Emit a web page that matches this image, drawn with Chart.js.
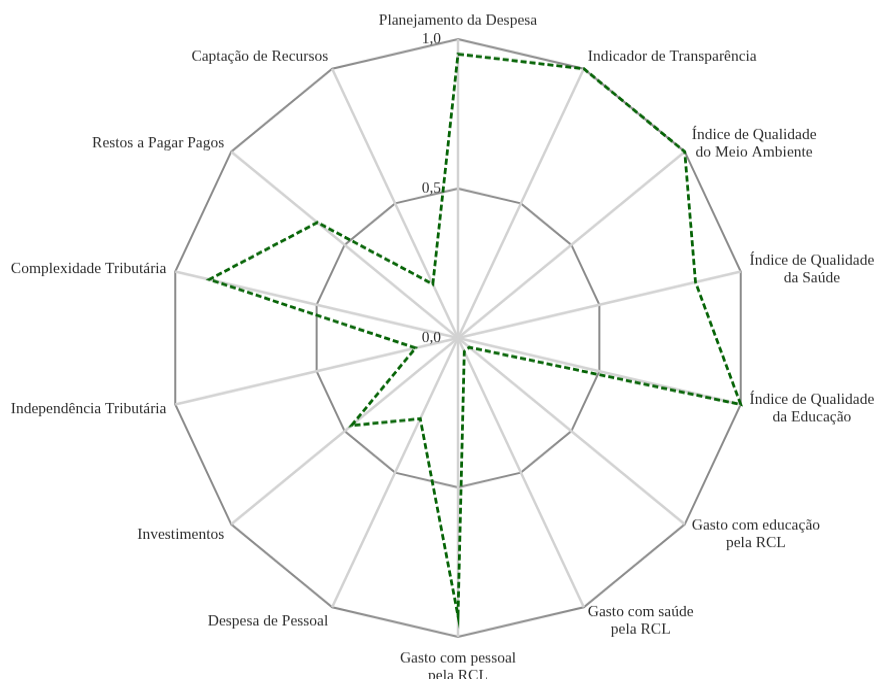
<!DOCTYPE html>
<html>
<head>
<meta charset="utf-8">
<script src="https://cdn.jsdelivr.net/npm/chart.js@4.4.0/dist/chart.umd.min.js"></script>
<style>
  html { overflow: hidden; }
  html, body { margin: 0; padding: 0; background: #fff; }
  body { height: 679px; }
  /* o gráfico original está levemente esticado na vertical */
  #wrap { width: 877px; height: 659px; transform: scaleY(1.0304); transform-origin: 0 0; }
</style>
</head>
<body>
<div id="wrap"><canvas id="radar" width="877" height="659"></canvas></div>
<script>
const categorias = [
  'Planejamento da Despesa',
  'Indicador de Transparência',
  ['Índice de Qualidade', 'do Meio Ambiente'],
  ['Índice de Qualidade', 'da Saúde'],
  ['Índice de Qualidade', 'da Educação'],
  ['Gasto com educação', 'pela RCL'],
  ['Gasto com saúde', 'pela RCL'],
  ['Gasto com pessoal', 'pela RCL'],
  'Despesa de Pessoal',
  'Investimentos',
  'Independência Tributária',
  'Complexidade Tributária',
  'Restos a Pagar Pagos',
  'Captação de Recursos'
];
const valores = [0.95, 1.0, 1.0, 0.84, 1.0, 0.05, 0.05, 0.93, 0.30, 0.47, 0.15, 0.88, 0.62, 0.20];
const ticksValores = [0, 0.5, 1];
const ticksTexto = ['0,0', '0,5', '1,0'];

const FONTE = '15.5px "Liberation Serif", "Times New Roman", serif';
const COR_TEXTO = '#2e2e2e';

// rótulos do eixo e das categorias desenhados à mão (alinhamento centrado por linha)
const rotulos = {
  id: 'rotulos',
  beforeDatasetsDraw(chart) {
    const s = chart.scales.r, ctx = chart.ctx;
    ctx.save();
    ctx.font = FONTE;
    ctx.fillStyle = COR_TEXTO;
    ctx.textAlign = 'right';
    ctx.textBaseline = 'alphabetic';
    ticksValores.forEach((v, i) => {
      const y = s.yCenter - s.getDistanceFromCenterForValue(v) + 4;
      ctx.fillText(ticksTexto[i], s.xCenter - 17, y);
    });
    ctx.restore();
  },
  afterDraw(chart) {
    const s = chart.scales.r, ctx = chart.ctx;
    const lh = 17;
    ctx.save();
    ctx.font = FONTE;
    ctx.fillStyle = COR_TEXTO;
    ctx.textAlign = 'center';
    ctx.textBaseline = 'alphabetic';
    categorias.forEach((lab, i) => {
      const linhas = Array.isArray(lab) ? lab : [lab];
      const ang = s.getIndexAngle(i);
      const sn = Math.sin(ang), cs = Math.cos(ang);
      const p = s.getPointPosition(i, s.drawingArea + 9);
      const w = Math.max(...linhas.map(l => ctx.measureText(l).width));
      let cx, y0;
      if (Math.abs(sn) < 0.05) {
        cx = p.x;
        y0 = cs > 0 ? p.y - 5 - (linhas.length - 1) * lh : p.y + 16;
      } else {
        cx = sn > 0 ? p.x + w / 2 : p.x - w / 2;
        const yc = p.y - cs * 5;
        y0 = yc - (linhas.length - 1) * lh / 2 + 5;
      }
      linhas.forEach((l, k) => ctx.fillText(l, cx, y0 + k * lh));
    });
    ctx.restore();
  }
};

new Chart(document.getElementById('radar'), {
  type: 'radar',
  data: {
    labels: categorias,
    datasets: [{
      data: valores,
      borderColor: '#056305',
      borderWidth: 2.8,
      borderDash: [6, 3],
      fill: false,
      pointRadius: 0,
      tension: 0
    }]
  },
  options: {
    responsive: false,
    animation: false,
    layout: { padding: { left: 39, right: 0, top: 38, bottom: 41 } },
    plugins: { legend: { display: false }, tooltip: { enabled: false } },
    scales: {
      r: {
        min: 0,
        max: 1,
        ticks: { stepSize: 0.5, display: false },
        grid: { color: '#8a8a8a', lineWidth: 2 },
        angleLines: { color: '#d2d2d2', lineWidth: 2.5 },
        pointLabels: { display: false }
      }
    }
  },
  plugins: [rotulos]
});
</script>
</body>
</html>
